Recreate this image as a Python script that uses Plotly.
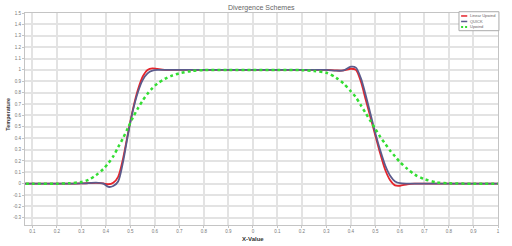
import plotly.graph_objects as go

# ---- data ----
x_pos = [0.0, 0.1, 0.2, 0.25, 0.3, 0.33, 0.36, 0.39, 0.41, 0.43,
         0.45, 0.47, 0.49, 0.51, 0.53, 0.55, 0.57, 0.59, 0.61, 0.64,
         0.67, 0.7, 0.75, 0.8, 0.9, 1.0, 1.1, 1.2, 1.25, 1.3,
         1.34, 1.37, 1.40, 1.42, 1.44, 1.46, 1.48, 1.50, 1.52, 1.54,
         1.56, 1.58, 1.60, 1.63, 1.66, 1.70, 1.75, 1.8, 1.9, 2.0]

linear_upwind = [0, 0, 0, 0, 0.002, 0.005, 0.008, 0.003, -0.005, 0.008,
                 0.06, 0.22, 0.44, 0.65, 0.82, 0.94, 1.0, 1.014, 1.008, 1.0,
                 1.0, 1.0, 1.0, 1.0, 1.0, 1.0, 1.0, 1.0, 1.0, 1.0,
                 0.995, 0.995, 1.01, 1.0, 0.9, 0.74, 0.58, 0.42, 0.26, 0.12,
                 0.03, -0.015, -0.018, -0.005, 0, 0, 0, 0, 0, 0]

quick = [0, 0, 0, 0, 0.002, 0.005, 0.01, 0.0, -0.028, -0.02,
         0.02, 0.19, 0.43, 0.64, 0.80, 0.91, 0.97, 0.993, 1.0, 1.0,
         1.0, 1.0, 1.0, 1.0, 1.0, 1.0, 1.0, 1.0, 1.0, 1.0,
         0.993, 0.995, 1.028, 1.02, 0.93, 0.78, 0.61, 0.44, 0.29, 0.16,
         0.07, 0.02, 0.004, 0, 0, 0, 0, 0, 0, 0]

upwind = [0, 0, 0, 0.004, 0.015, 0.035, 0.075, 0.13, 0.18, 0.24,
          0.32, 0.40, 0.49, 0.58, 0.66, 0.73, 0.79, 0.84, 0.88, 0.92,
          0.95, 0.97, 0.99, 0.998, 1.0, 1.0, 1.0, 0.998, 0.99, 0.975,
          0.93, 0.88, 0.81, 0.76, 0.69, 0.62, 0.55, 0.48, 0.41, 0.35,
          0.29, 0.24, 0.19, 0.13, 0.08, 0.04, 0.012, 0.003, 0, 0]

series_names = ["Linear Upwind", "QUICK", "Upwind"]
series_colors = ["#e5252c", "#5b5b8c", "#33dd33"]

x_tickvals = [round(0.1 * i, 1) for i in range(1, 21)]
x_ticktext = ["0.1", "0.2", "0.3", "0.4", "0.5", "0.6", "0.7", "0.8", "0.9", "0",
              "0.1", "0.2", "0.3", "0.4", "0.5", "0.6", "0.7", "0.8", "0.9", "1"]
y_tickvals = [round(-0.3 + 0.1 * i, 1) for i in range(19)]
y_ticktext = ["-0.3", "-0.2", "-0.1", "0", "0.1", "0.2", "0.3", "0.4", "0.5",
              "0.6", "0.7", "0.8", "0.9", "1", "1.1", "1.2", "1.3", "1.4", "1.5"]

# ---- figure ----
fig = go.Figure()
fig.add_trace(go.Scatter(x=x_pos, y=linear_upwind, mode="lines", name=series_names[0],
                         line=dict(color=series_colors[0], width=1.8, shape="spline", smoothing=0.8)))
fig.add_trace(go.Scatter(x=x_pos, y=quick, mode="lines", name=series_names[1],
                         line=dict(color=series_colors[1], width=1.8, shape="spline", smoothing=0.8)))
fig.add_trace(go.Scatter(x=x_pos, y=upwind, mode="lines", name=series_names[2],
                         line=dict(color=series_colors[2], width=2.5, dash="3px,3px",
                                   shape="spline", smoothing=0.8)))

axis_common = dict(showgrid=True, gridcolor="#e3e3e3", gridwidth=1.5,
                   showline=True, linecolor="#c4c4c4", linewidth=1, mirror=True,
                   ticks="outside", ticklen=2, tickcolor="#c4c4c4",
                   tickfont=dict(size=4.5, color="#777", family="Liberation Sans"),
                   zeroline=False)

fig.update_layout(
    width=512, height=246,
    margin=dict(l=25, r=14, t=13, b=21),
    paper_bgcolor="white", plot_bgcolor="white",
    showlegend=False,
    xaxis=dict(range=[0.07, 2.0], tickvals=x_tickvals, ticktext=x_ticktext, **axis_common),
    yaxis=dict(range=[-0.363, 1.5], tickvals=y_tickvals, ticktext=y_ticktext, **axis_common),
)

# titles
fig.add_annotation(text="Divergence Schemes", xref="paper", yref="paper", x=0.5, y=1.0,
                   xanchor="center", yanchor="bottom", yshift=-1, showarrow=False,
                   font=dict(size=7, color="#666", family="Liberation Sans"))
fig.add_annotation(text="<b>X-Value</b>", xref="paper", yref="paper", x=0.481, y=0,
                   xanchor="center", yanchor="top", yshift=-8.5, showarrow=False,
                   font=dict(size=6, color="#333", family="Liberation Sans"))
fig.add_annotation(text="<b>Temperature</b>", xref="paper", yref="paper", x=0, y=0.52,
                   xanchor="center", yanchor="middle", xshift=-17, textangle=-90, showarrow=False,
                   font=dict(size=5.5, color="#333", family="Liberation Sans"))

# custom compact legend
fig.add_shape(type="rect", xref="paper", yref="paper", x0=0.9175, x1=1.002, y0=0.9165, y1=1.006,
              line=dict(color="#aaa", width=1), fillcolor="white", layer="above")
legend_y = [0.986, 0.960, 0.934]
for name, color, ly, i in zip(series_names, series_colors, legend_y, range(3)):
    fig.add_shape(type="line", xref="paper", yref="paper", x0=0.922, x1=0.935, y0=ly, y1=ly,
                  line=dict(color=color, width=1.5 if i < 2 else 2, dash="solid" if i < 2 else "2px,2px"),
                  layer="above")
    fig.add_annotation(text=name, xref="paper", yref="paper", x=0.937, y=ly, xanchor="left",
                       yanchor="middle", showarrow=False,
                       font=dict(size=4, color="#666", family="Liberation Sans"))

fig.write_html("out.html")
